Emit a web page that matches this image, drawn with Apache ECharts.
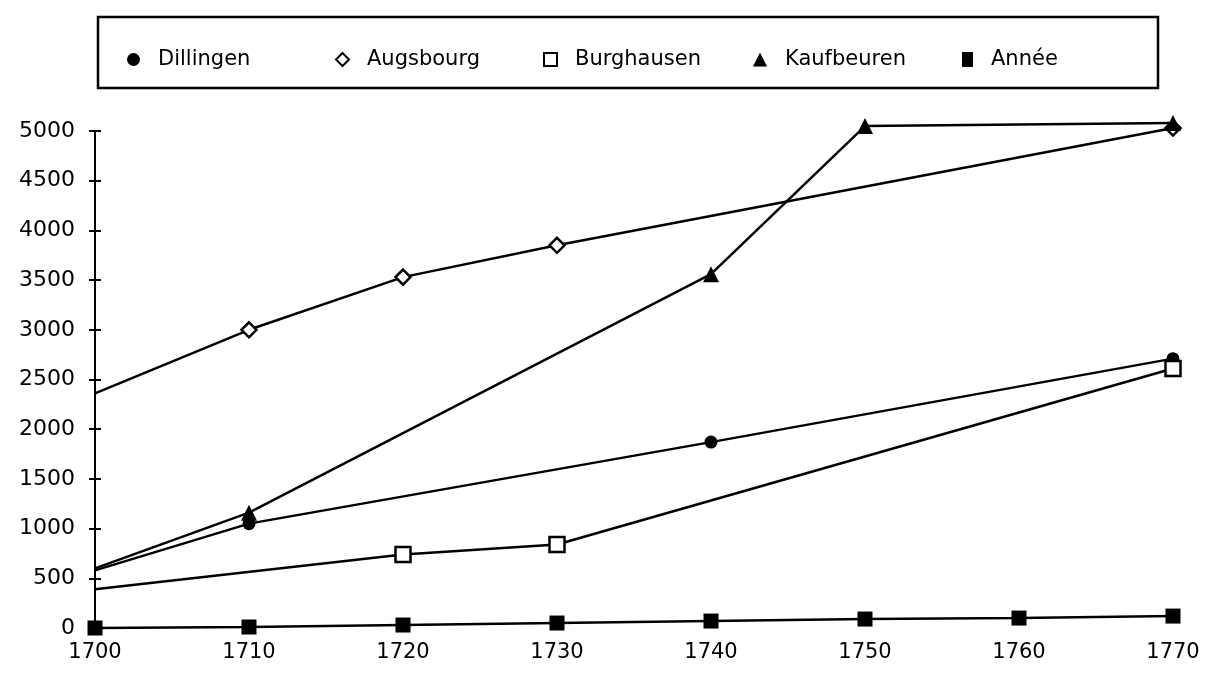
<!DOCTYPE html>
<html>
<head>
<meta charset="utf-8">
<script src="https://cdn.jsdelivr.net/npm/echarts@6/dist/echarts.min.js"></script>
<style>
html, body { margin: 0; padding: 0; background: #fff; }
#chart { width: 1205px; height: 678px; }
</style>
</head>
<body>
<div id="chart"></div>
<script>
// years on the x axis
const years = ['1700', '1710', '1720', '1730', '1740', '1750', '1760', '1770'];
const yTicks = [0, 500, 1000, 1500, 2000, 2500, 3000, 3500, 4000, 4500, 5000];

// values, null where the town has no point
const dillingen  = [580, 1050, null, null, 1870, null, null, 2710];
const augsbourg  = [2360, 3000, 3530, 3850, null, null, null, 5030];
const burghausen = [390, null, 740, 840, null, null, null, 2610];
const kaufbeuren = [600, 1160, null, null, 3560, 5050, null, 5080];
const annee      = [0, 10, 30, 50, 70, 90, 100, 120];

const font = 'DejaVu Sans';
const black = '#000';
const tickHalf = 6;

// first point of the town series sits on the axis with no marker
const noFirstMarker = (arr) => arr.map((v, i) => i === 0 ? {value: v, symbol: 'none'} : v);

const mkSeries = (name, data, symbol, size, filled, axisIdx) => ({
    name: name,
    type: 'line',
    yAxisIndex: axisIdx || 0,
    data: data,
    symbol: symbol,
    symbolSize: size,
    connectNulls: true,
    clip: false,
    lineStyle: {color: black, width: 2.5},
    itemStyle: filled
        ? {color: black, borderColor: black, borderWidth: 0}
        : {color: '#fff', borderColor: black, borderWidth: 2.5},
    emphasis: {disabled: true}
});

const legendLefts = [122, 330, 538, 748, 957];
const legendIcons = ['circle', 'diamond', 'rect', 'triangle', 'rect'];
const legendSizes = [[13, 13], [13, 13], [13, 13], [14, 14], [11, 15]];
const names = ['Dillingen', 'Augsbourg', 'Burghausen', 'Kaufbeuren', 'Année'];

const legends = names.map((n, i) => ({
    data: [{name: n, icon: legendIcons[i]}],
    left: legendLefts[i],
    top: 44,
    itemWidth: legendSizes[i][0],
    itemHeight: legendSizes[i][1],
    selectedMode: false,
    textStyle: {fontFamily: font, fontSize: 21, color: black, padding: [0, 0, 0, 13]}
}));

const yAxisBase = {
    type: 'value',
    position: 'left',
    min: yTicks[0],
    max: yTicks[yTicks.length - 1],
    interval: 500,
    splitLine: {show: false}
};

const option = {
    backgroundColor: '#fff',
    animation: false,
    legend: legends,
    graphic: [{
        type: 'rect',
        shape: {x: 98, y: 17, width: 1060, height: 71},
        style: {fill: 'none', stroke: black, lineWidth: 2.5}
    }],
    grid: {left: 95, right: 32, top: 131, bottom: 50},
    xAxis: {
        type: 'category',
        data: years,
        boundaryGap: false,
        axisLine: {show: false},
        axisTick: {show: false},
        axisLabel: {fontFamily: font, fontSize: 21, color: black, margin: 14}
    },
    yAxis: [Object.assign({}, yAxisBase, {
        // pushed into the plot by half a tick, so the long ticks cross the real axis line
        offset: -tickHalf,
        axisLine: {show: false},
        axisTick: {show: true, length: 2 * tickHalf, lineStyle: {color: black, width: 2}},
        axisLabel: {fontFamily: font, fontSize: 22, color: black, margin: 20 + tickHalf,
            formatter: (v) => String(v)}
    }), Object.assign({}, yAxisBase, {
        offset: 0,
        axisLine: {show: true, lineStyle: {color: black, width: 2}},
        axisTick: {show: false},
        axisLabel: {show: false}
    })],
    series: [
        mkSeries('Dillingen', noFirstMarker(dillingen), 'circle', 13, true),
        mkSeries('Augsbourg', noFirstMarker(augsbourg), 'diamond', 15, false),
        mkSeries('Burghausen', noFirstMarker(burghausen), 'rect', 15, false),
        mkSeries('Kaufbeuren', noFirstMarker(kaufbeuren), 'triangle', 16, true),
        mkSeries('Année', annee, 'rect', 15, true, 1)
    ]
};

const myChart = echarts.init(document.getElementById('chart'));
myChart.setOption(option);
</script>
</body>
</html>
